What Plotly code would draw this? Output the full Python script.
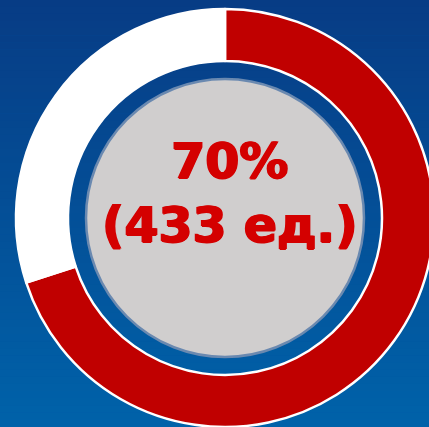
import plotly.graph_objects as go

# ---- data ----
labels = ["Выполнено", "Остаток"]
values = [70, 30]
units_done = 433
slice_colors = ["#C00000", "#FFFFFF"]

# figure is slightly wider than the 429px window; the right edge is cut off like in the reference
W, H = 436, 427

# geometry in pixels (layout only)
cx, cy, R = 225, 218, 209
r_gray = 139

def px_x(x):
    return x / W

def px_y(y):
    return 1 - y / H

fig = go.Figure()

fig.add_trace(go.Pie(
    labels=labels,
    values=values,
    sort=False,
    direction="clockwise",
    rotation=0,
    hole=157 / R,
    marker=dict(colors=slice_colors, line=dict(color="#FFFFFF", width=2.5)),
    textinfo="none",
    hoverinfo="label+value",
    showlegend=False,
    domain=dict(x=[max(0, px_x(cx - R)), min(1, px_x(cx + R))],
                y=[max(0, px_y(cy + R)), min(1, px_y(cy - R))]),
))

# background gradient bands
top = (7, 60, 133)
bot = (0, 98, 169)
n = 60
shapes = []
for i in range(n):
    t = i / (n - 1)
    c = tuple(round(top[k] + (bot[k] - top[k]) * t) for k in range(3))
    shapes.append(dict(type="rect", xref="paper", yref="paper",
                       x0=0, x1=1, y0=1 - (i + 1) / n, y1=1 - i / n + 0.001,
                       fillcolor="rgb(%d,%d,%d)" % c, line=dict(width=0),
                       layer="below"))

# gray center disc
shapes.append(dict(type="circle", xref="paper", yref="paper",
                   x0=px_x(cx - r_gray), x1=px_x(cx + r_gray),
                   y0=px_y(cy + r_gray), y1=px_y(cy - r_gray),
                   fillcolor="#D0CECE", line=dict(color="#6A89B0", width=2.5),
                   layer="above"))

pct = round(100 * values[0] / sum(values))
fig.add_annotation(
    text=f"{pct}%<br>({units_done} ед.)",
    xref="paper", yref="paper", x=px_x(230), y=px_y(193),
    xanchor="center", yanchor="middle", showarrow=False,
    font=dict(family="DejaVu Sans", size=49, color="#D40000", weight="bold",
              shadow="1px 0px 0px #D40000, -1px 0px 0px #D40000, 0px 1px 0px #D40000"),
)

fig.update_layout(
    width=W, height=H,
    margin=dict(l=0, r=0, t=0, b=0),
    paper_bgcolor="#0550A0",
    plot_bgcolor="rgba(0,0,0,0)",
    shapes=shapes,
)

fig.write_html(
    "out.html",
    config={"displayModeBar": False},
    post_script="document.body.style.margin='0';document.body.style.overflow='hidden';",
)
